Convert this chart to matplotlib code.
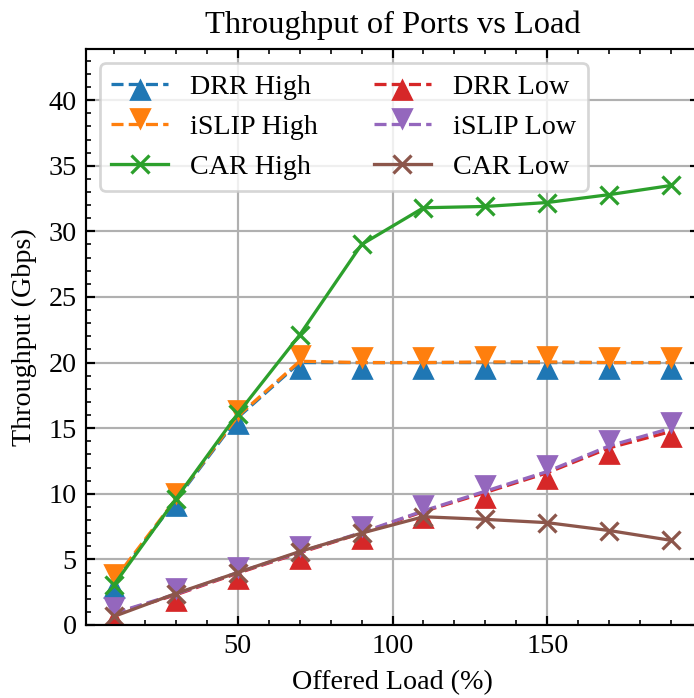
import numpy as np
import matplotlib
matplotlib.use("Agg")
import matplotlib.pyplot as plt
from matplotlib.markers import MarkerStyle
from matplotlib.transforms import Affine2D

# offered load (%)
load = [10, 30, 50, 70, 90, 110, 130, 150, 170, 190]

# throughput (Gbps)
drr_high = [3.3, 9.5, 15.8, 20.0, 20.0, 20.0, 20.0, 20.0, 20.0, 20.0]
islip_high = [3.4, 9.6, 15.9, 20.1, 20.0, 20.0, 20.05, 20.05, 20.0, 20.0]
car_high = [3.05, 9.6, 16.1, 22.1, 29.0, 31.8, 31.9, 32.2, 32.8, 33.5]
drr_low = [0.85, 2.3, 3.95, 5.5, 7.0, 8.65, 10.1, 11.6, 13.5, 14.75]
islip_low = [0.9, 2.35, 4.0, 5.55, 7.05, 8.7, 10.2, 11.7, 13.65, 15.0]
car_low = [0.65, 2.4, 4.0, 5.6, 7.0, 8.25, 8.05, 7.8, 7.2, 6.45]

s = 1.95  # scale factor from the original point sizes
plt.rcParams.update({
    "font.family": ["Liberation Serif", "DejaVu Serif"],
    "font.size": 10.4 * s,
    "axes.linewidth": 0.8 * s,
    "xtick.direction": "in",
    "ytick.direction": "in",
    "xtick.top": True,
    "ytick.right": True,
    "xtick.minor.visible": True,
    "ytick.minor.visible": True,
    "xtick.major.size": 3.5 * s,
    "ytick.major.size": 3.5 * s,
    "xtick.minor.size": 2.0 * s,
    "ytick.minor.size": 2.0 * s,
    "xtick.major.width": 0.8 * s,
    "ytick.major.width": 0.8 * s,
    "xtick.minor.width": 0.6 * s,
    "ytick.minor.width": 0.6 * s,
    "xtick.major.pad": 3.5 * s,
    "ytick.major.pad": 3.5 * s,
    "axes.labelpad": 4.0 * s,
    "lines.linewidth": 1.2 * s,
    "lines.markersize": 6.3 * s,
    "lines.markeredgewidth": 1.0 * s,
    "patch.linewidth": 1.0 * s,
    "grid.linewidth": 0.8 * s,
})

W, H = 694, 698
fig = plt.figure(figsize=(W / 100, H / 100), dpi=100)
ax = fig.add_axes([86 / W, (H - 625) / H, (699 - 86) / W, (625 - 49) / H])

up = MarkerStyle("^", transform=Affine2D().translate(0, -0.35))
down = MarkerStyle("v", transform=Affine2D().translate(0, 0.35))

ax.plot(load, drr_high, "--", color="C0", marker=up, label="DRR High")
ax.plot(load, islip_high, "--", color="C1", marker=down, label="iSLIP High")
ax.plot(load, car_high, "-", color="C2", marker="x", ms=7 * s, mew=1.2 * s,
        label="CAR High")
ax.plot(load, drr_low, "--", color="C3", marker=up, label="DRR Low")
ax.plot(load, islip_low, "--", color="C4", marker=down, label="iSLIP Low")
ax.plot(load, car_low, "-", color="C5", marker="x", ms=7 * s, mew=1.2 * s,
        label="CAR Low")

ax.set_xlim(1, 199)
ax.set_ylim(0, 43.9)
ax.set_xticks([50, 100, 150])
ax.set_yticks(np.arange(0, 45, 5))
ax.xaxis.set_minor_locator(matplotlib.ticker.MultipleLocator(10))
ax.yaxis.set_minor_locator(matplotlib.ticker.MultipleLocator(1))
ax.grid(True, which="major", color="#b0b0b0")

ax.set_xlabel("Offered Load (%)")
ax.set_ylabel("Throughput (Gbps)")
ax.set_title("Throughput of Ports vs Load", fontsize=12 * s, pad=6 * s)
ax.legend(ncol=2, loc="upper left")

fig.savefig("out.png", dpi=100)
